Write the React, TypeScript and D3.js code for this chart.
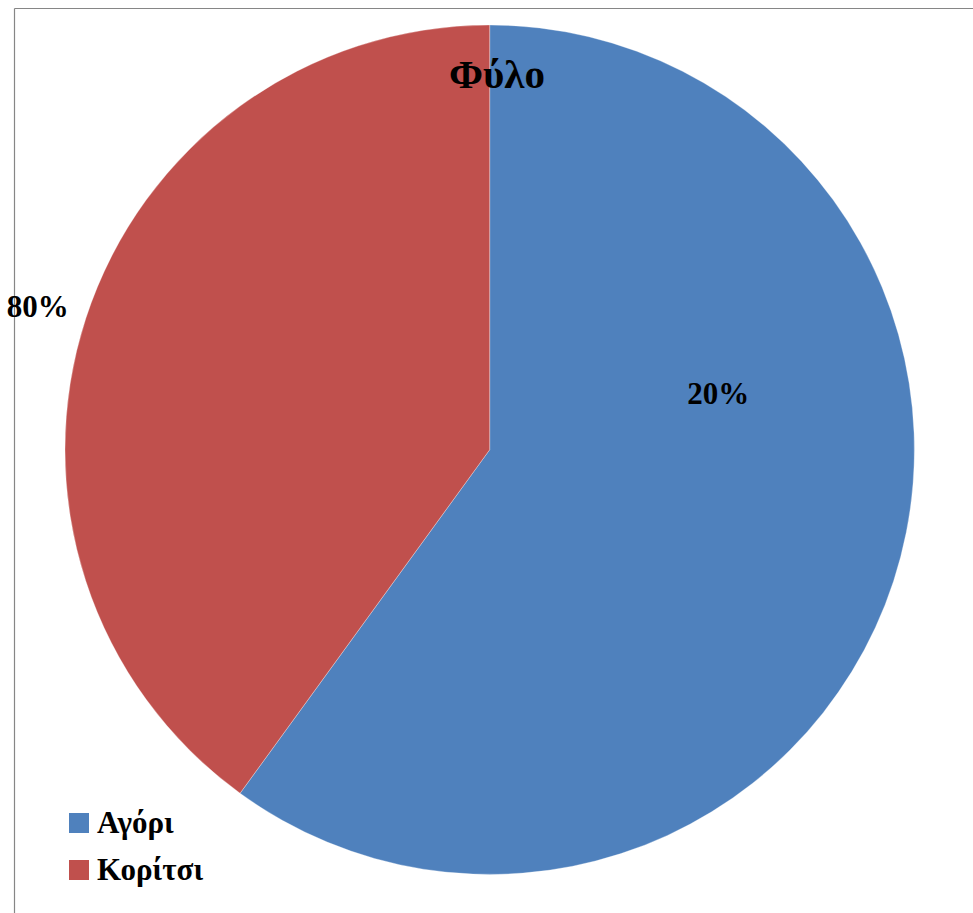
import React from "react";
import * as d3 from "d3";

const categories = ["Αγόρι", "Κορίτσι"];
const values = [60, 40];
const valueLabels = ["20%", "80%"];
const colors = ["#4F81BD", "#C0504D"];
const title = "Φύλο";

const W = 973;
const H = 913;
const cx = 489.7;
const cy = 449.7;
const R = 424.7;

export default function App() {
  const pie = d3.pie<number>().sort(null).value((d) => d);
  const arcs = pie(values);
  const arc = d3.arc<d3.PieArcDatum<number>>().innerRadius(0).outerRadius(R);
  const labelPos = [
    [cx + 228.5, cy - 45.5],
    [cx - 452, cy - 132.5],
  ];
  const font = "'Liberation Serif', 'Times New Roman', serif";
  return (
    <div style={{ position: "absolute", left: 0, top: 0 }}>
      <svg width={W} height={H} style={{ display: "block" }}>
        <rect x={0} y={0} width={W} height={H} fill="#fff" />
        <line x1={14.5} y1={8.5} x2={W} y2={8.5} stroke="#868686" strokeWidth={1.2} />
        <line x1={14.5} y1={8.5} x2={14.5} y2={H} stroke="#868686" strokeWidth={1.2} />
        <g transform={`translate(${cx},${cy})`}>
          {arcs.map((a, i) => (
            <path key={i} d={arc(a) || ""} fill={colors[i]} stroke="#fff" strokeOpacity={0.5} strokeWidth={0.6} />
          ))}
        </g>
        <text x={497} y={88} textAnchor="middle" fontFamily={font} fontWeight="bold" fontSize={41} fill="#000">
          {title}
        </text>
        {valueLabels.map((t, i) => (
          <text key={i} x={labelPos[i][0]} y={labelPos[i][1]} textAnchor="middle" fontFamily={font} fontWeight="bold" fontSize={31} fill="#000">
            {t}
          </text>
        ))}
        {categories.map((c, i) => (
          <g key={c} transform={`translate(69,${813 + i * 47})`}>
            <rect x={0} y={0} width={20} height={20} fill={colors[i]} />
            <text x={28} y={20} fontFamily={font} fontWeight="bold" fontSize={31} fill="#000">
              {c}
            </text>
          </g>
        ))}
      </svg>
    </div>
  );
}
